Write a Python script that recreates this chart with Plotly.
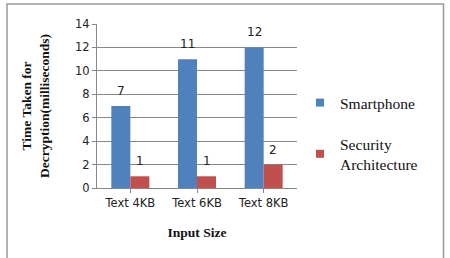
import plotly.graph_objects as go

categories = ["Text 4KB", "Text 6KB", "Text 8KB"]
smartphone = [7, 11, 12]
security = [1, 1, 2]
y_ticks = [0, 2, 4, 6, 8, 10, 12, 14]

L, R, T, B = 97, 297, 24, 188
W, H = 450, 258
BLUE, RED = "#4F81BD", "#C0504D"

fig = go.Figure()
fig.add_trace(go.Bar(
    x=categories, y=smartphone, name="Smartphone", showlegend=False,
    marker=dict(color=BLUE, line=dict(width=0)),
))
fig.add_trace(go.Bar(
    x=categories, y=security, name="Security Architecture", showlegend=False,
    marker=dict(color=RED, line=dict(width=0)),
))
# legend entries with small square swatches
fig.add_trace(go.Scatter(
    x=[None], y=[None], mode="markers", name="Smartphone", legendgroup="a",
    marker=dict(symbol="square", size=8, color=BLUE),
))
fig.add_trace(go.Scatter(
    x=[None], y=[None], mode="markers", name="Security<br>Architecture", legendgroup="b",
    marker=dict(symbol="square", size=8, color=RED),
))

annotations = []
for c, v in zip(categories, smartphone):
    annotations.append(dict(x=c, y=v, xref="x", yref="y", text=str(v), showarrow=False,
                            xshift=-9.5, yshift=15,
                            font=dict(family="DejaVu Sans", size=12, color="#222")))
for c, v in zip(categories, security):
    annotations.append(dict(x=c, y=v, xref="x", yref="y", text=str(v), showarrow=False,
                            xshift=9.5, yshift=15,
                            font=dict(family="DejaVu Sans", size=12, color="#222")))

def px(xp):
    return (xp - L) / (R - L)

def py(yp):
    return (B - yp) / (B - T)

fig.update_layout(
    width=W, height=H,
    margin=dict(l=L, r=W - R, t=T, b=H - B),
    paper_bgcolor="white", plot_bgcolor="white",
    barmode="group", bargap=0.43, bargroupgap=0,
    showlegend=True,
    annotations=annotations,
    legend=dict(
        x=px(300), y=py(86), xanchor="left", yanchor="top",
        font=dict(family="Liberation Serif", size=15.5, color="#111"),
        tracegroupgap=18, itemwidth=30,
        bgcolor="rgba(0,0,0,0)",
    ),
    xaxis=dict(
        showline=True, linecolor="#888", linewidth=1,
        ticks="outside", tickcolor="#888", ticklen=4,
        tickfont=dict(family="DejaVu Sans", size=11.5, color="#222"),
        title=dict(text="<b>Input Size</b>", standoff=18,
                   font=dict(family="Liberation Serif", size=13.5, color="#111")),
    ),
    yaxis=dict(
        range=[0, 14], tickvals=y_ticks, showgrid=True, gridcolor="#888", gridwidth=1,
        showline=True, linecolor="#888", linewidth=1,
        ticks="outside", tickcolor="#888", ticklen=4,
        tickfont=dict(family="DejaVu Sans", size=11.5, color="#222"),
        zeroline=False,
        title=dict(text="<b>Time Taken for<br>Decryption(milliseconds)</b>", standoff=22,
                   font=dict(family="Liberation Serif", size=13.5, color="#111")),
    ),
    shapes=[dict(type="rect", xref="paper", yref="paper",
                 x0=px(7), x1=px(443.5), y0=py(262), y1=py(4),
                 line=dict(color="#999", width=1.5), fillcolor="rgba(0,0,0,0)", layer="below")],
)

fig.write_html("out.html")
